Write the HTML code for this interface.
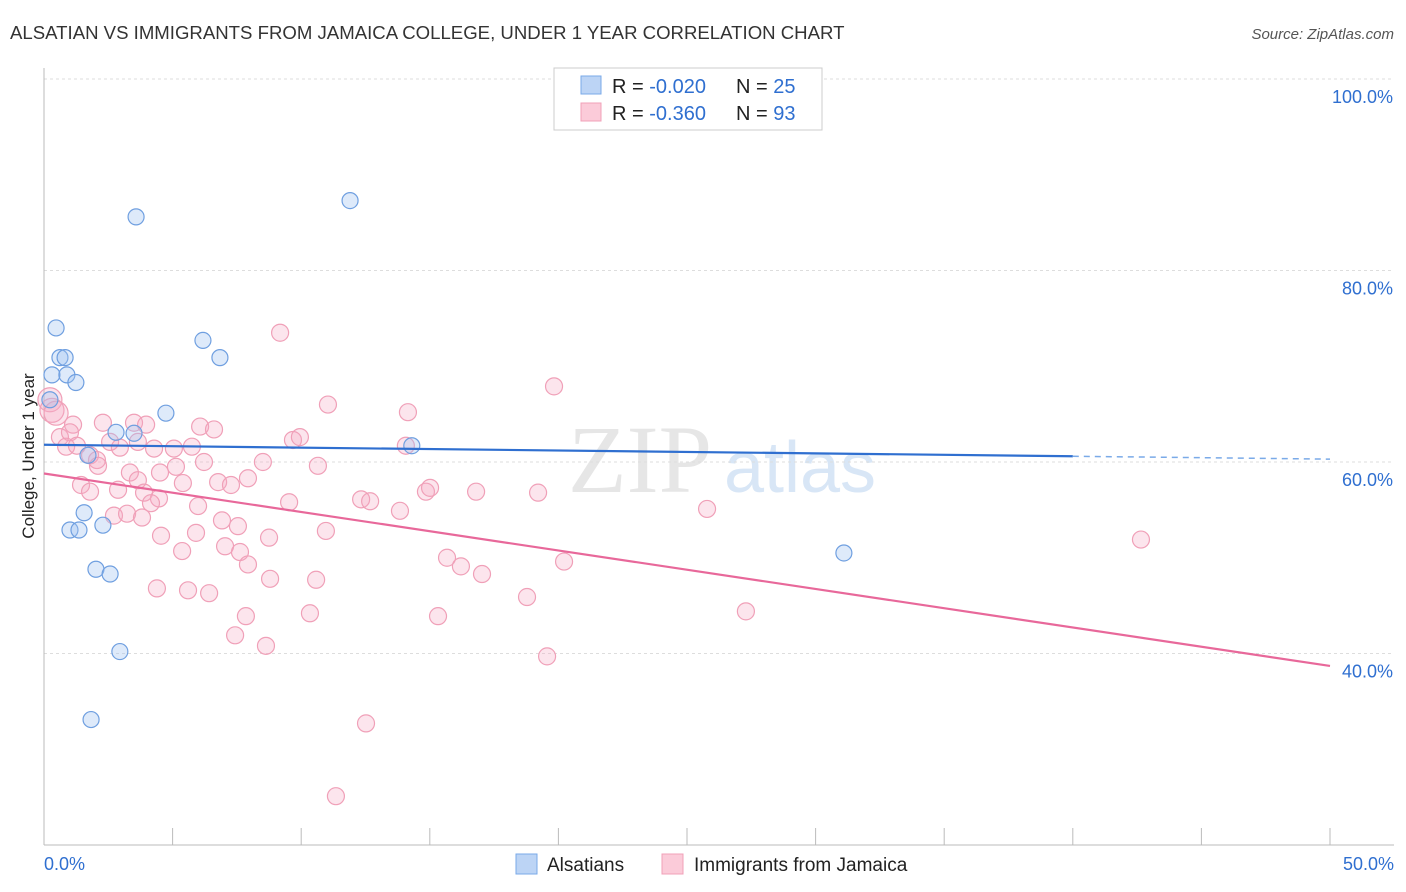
<!DOCTYPE html>
<html><head><meta charset="utf-8"><style>
body{margin:0;background:#fff;font-family:"Liberation Sans",sans-serif}
svg{display:block}
</style></head><body>
<svg id="chart" width="1406" height="892">
<text x="10" y="39" font-size="18.6" fill="#333">ALSATIAN VS IMMIGRANTS FROM JAMAICA COLLEGE, UNDER 1 YEAR CORRELATION CHART</text>
<text x="1394" y="39" font-size="15" fill="#555" font-style="italic" text-anchor="end">Source: ZipAtlas.com</text>
<text x="640" y="492" font-size="96" fill="#e6e6e6" font-family="Liberation Serif,serif" text-anchor="middle">ZIP</text>
<text x="800" y="492" font-size="72" fill="#d8e6f6" text-anchor="middle">atlas</text>
<g id="grid"></g>
<g id="axes"></g>
<g id="marks"></g>
<text transform="translate(34,456) rotate(-90)" font-size="17" fill="#222" text-anchor="middle">College, Under 1 year</text>
<g>
<rect x="554" y="68" width="268" height="62" fill="#fff" stroke="#ccc"/>
<rect x="581" y="76" width="20" height="18" fill="#bcd4f5" stroke="#7aaae8"/>
<rect x="581" y="103" width="20" height="18" fill="#fbcbd9" stroke="#f0a0b8"/>
<text x="612" y="93" font-size="20" fill="#222">R = <tspan fill="#2f6fd0">-0.020</tspan><tspan x="736">N = </tspan><tspan fill="#2f6fd0">25</tspan></text>
<text x="612" y="120" font-size="20" fill="#222">R = <tspan fill="#2f6fd0">-0.360</tspan><tspan x="736">N = </tspan><tspan fill="#2f6fd0">93</tspan></text>
</g>
<g>
<rect x="516" y="854" width="21" height="20" fill="#bcd4f5" stroke="#7aaae8"/>
<text x="547" y="871" font-size="19" fill="#222">Alsatians</text>
<rect x="662" y="854" width="21" height="20" fill="#fbcbd9" stroke="#f0a0b8"/>
<text x="694" y="871" font-size="19" fill="#222">Immigrants from Jamaica</text>
</g>
</svg>
<script>
const yTicks=[40,60,80,100];
const yTickLabels=["40.0%","60.0%","80.0%","100.0%"];
const xTickLabels=["0.0%","50.0%"];
const blueX=[3.58,11.9,0.47,6.18,0.62,0.82,6.84,0.31,0.89,1.24,0.23,4.74,2.8,3.5,1.71,14.3,1.56,1.01,1.36,2.29,2.02,2.57,31.1,2.95,1.83];
const blueY=[85.6,87.3,74.0,72.7,70.9,70.9,70.9,69.1,69.1,68.3,66.5,65.1,63.1,63.0,60.7,61.7,54.7,52.9,52.9,53.4,48.8,48.3,50.5,40.2,33.1];
const pinkX=[9.18,19.83,11.04,14.15,0.23,0.31,0.47,2.29,3.5,3.97,6.07,6.61,1.13,0.62,1.01,9.68,9.95,14.07,2.57,3.65,0.86,1.28,2.95,4.28,5.05,5.75,1.79,2.06,2.1,5.13,6.22,8.51,10.65,3.34,4.51,3.65,1.44,5.4,6.77,7.27,7.93,1.79,2.88,3.89,4.47,4.16,5.99,9.53,12.33,12.68,13.84,14.85,15.01,16.8,19.21,25.78,2.72,3.23,3.81,6.92,7.54,4.55,5.91,8.75,10.96,7.04,5.37,7.62,7.93,15.67,16.21,20.22,17.03,8.79,10.58,4.39,5.6,6.42,18.78,42.65,27.29,7.85,10.34,15.32,7.43,8.63,19.56,12.52,11.35];
const pinkY=[73.5,67.9,66.0,65.2,66.5,65.4,65.1,64.1,64.1,63.9,63.7,63.4,63.9,62.6,63.1,62.3,62.6,61.7,62.1,62.1,61.6,61.7,61.5,61.4,61.4,61.6,60.7,60.2,59.6,59.5,60.0,60.0,59.6,58.9,58.9,58.1,57.6,57.8,57.9,57.6,58.3,56.9,57.1,56.8,56.2,55.7,55.4,55.8,56.1,55.9,54.9,56.9,57.3,56.9,56.8,55.1,54.4,54.6,54.2,53.9,53.3,52.3,52.6,52.1,52.8,51.2,50.7,50.6,49.3,50.0,49.1,49.6,48.3,47.8,47.7,46.8,46.6,46.3,45.9,51.9,44.4,43.9,44.2,43.9,41.9,40.8,39.7,32.7,25.1];
const blueTrend=[61.8,60.6];
const pinkTrend=[58.8,38.7];
const NS="http://www.w3.org/2000/svg";
const xs=v=>44+v/50*1286;
const ys=v=>462-(v-60)*9.575;
function mk(tag,attrs,parent){const e=document.createElementNS(NS,tag);for(const k in attrs)e.setAttribute(k,attrs[k]);parent.appendChild(e);return e;}
const grid=document.getElementById('grid'),axes=document.getElementById('axes'),marks=document.getElementById('marks');
yTicks.forEach((t,i)=>{
 const l=mk('line',{x1:44,x2:1394,y1:ys(t),y2:ys(t),stroke:'#ddd','stroke-dasharray':'3,3'},grid);
 
 
 const tx=mk('text',{x:1393,y:ys(t)+24,'font-size':18,fill:'#2f6fd0','text-anchor':'end'},axes);
 tx.textContent=yTickLabels[i];
 
 
});
mk('line',{x1:44,x2:44,y1:68,y2:845,stroke:'#bbb'},axes);
mk('line',{x1:44,x2:1394,y1:845,y2:845,stroke:'#bbb'},axes);
for(let i=0;i<=10;i++){const x=xs(i*5);const t=mk('line',{x1:x,x2:x,y1:828,y2:845,stroke:'#bbb'},axes);}
[[0,44,'start'],[1,1394,'end']].forEach(([i,x,a])=>{const t=mk('text',{x:x,y:870,'font-size':18,fill:'#2f6fd0','text-anchor':a},axes);t.textContent=xTickLabels[i];});
pinkX.forEach((v,i)=>{const big=v<0.5&&pinkY[i]>65;const c=mk('circle',{cx:xs(v),cy:ys(pinkY[i]),r:big?12:8.5,fill:'rgba(246,170,196,0.3)',stroke:'#f0a0b8','stroke-width':1.2},marks);});
blueX.forEach((v,i)=>{const c=mk('circle',{cx:xs(v),cy:ys(blueY[i]),r:8,fill:'rgba(160,195,240,0.35)',stroke:'#6f9fe0','stroke-width':1.2},marks);});
const bAt=x=>blueTrend[0]+(blueTrend[1]-blueTrend[0])*x/40;
let l1=mk('line',{x1:xs(0),y1:ys(bAt(0)),x2:xs(40),y2:ys(bAt(40)),stroke:'#2f6fd0','stroke-width':2.2},marks);


let l2=mk('line',{x1:xs(40),y1:ys(bAt(40)),x2:xs(50),y2:ys(bAt(50)),stroke:'#7aaae8','stroke-width':1.5,'stroke-dasharray':'6,5'},marks);


let l3=mk('line',{x1:xs(0),y1:ys(pinkTrend[0]),x2:xs(50),y2:ys(pinkTrend[1]),stroke:'#e8689a','stroke-width':2.2},marks);


</script>
</body></html>
